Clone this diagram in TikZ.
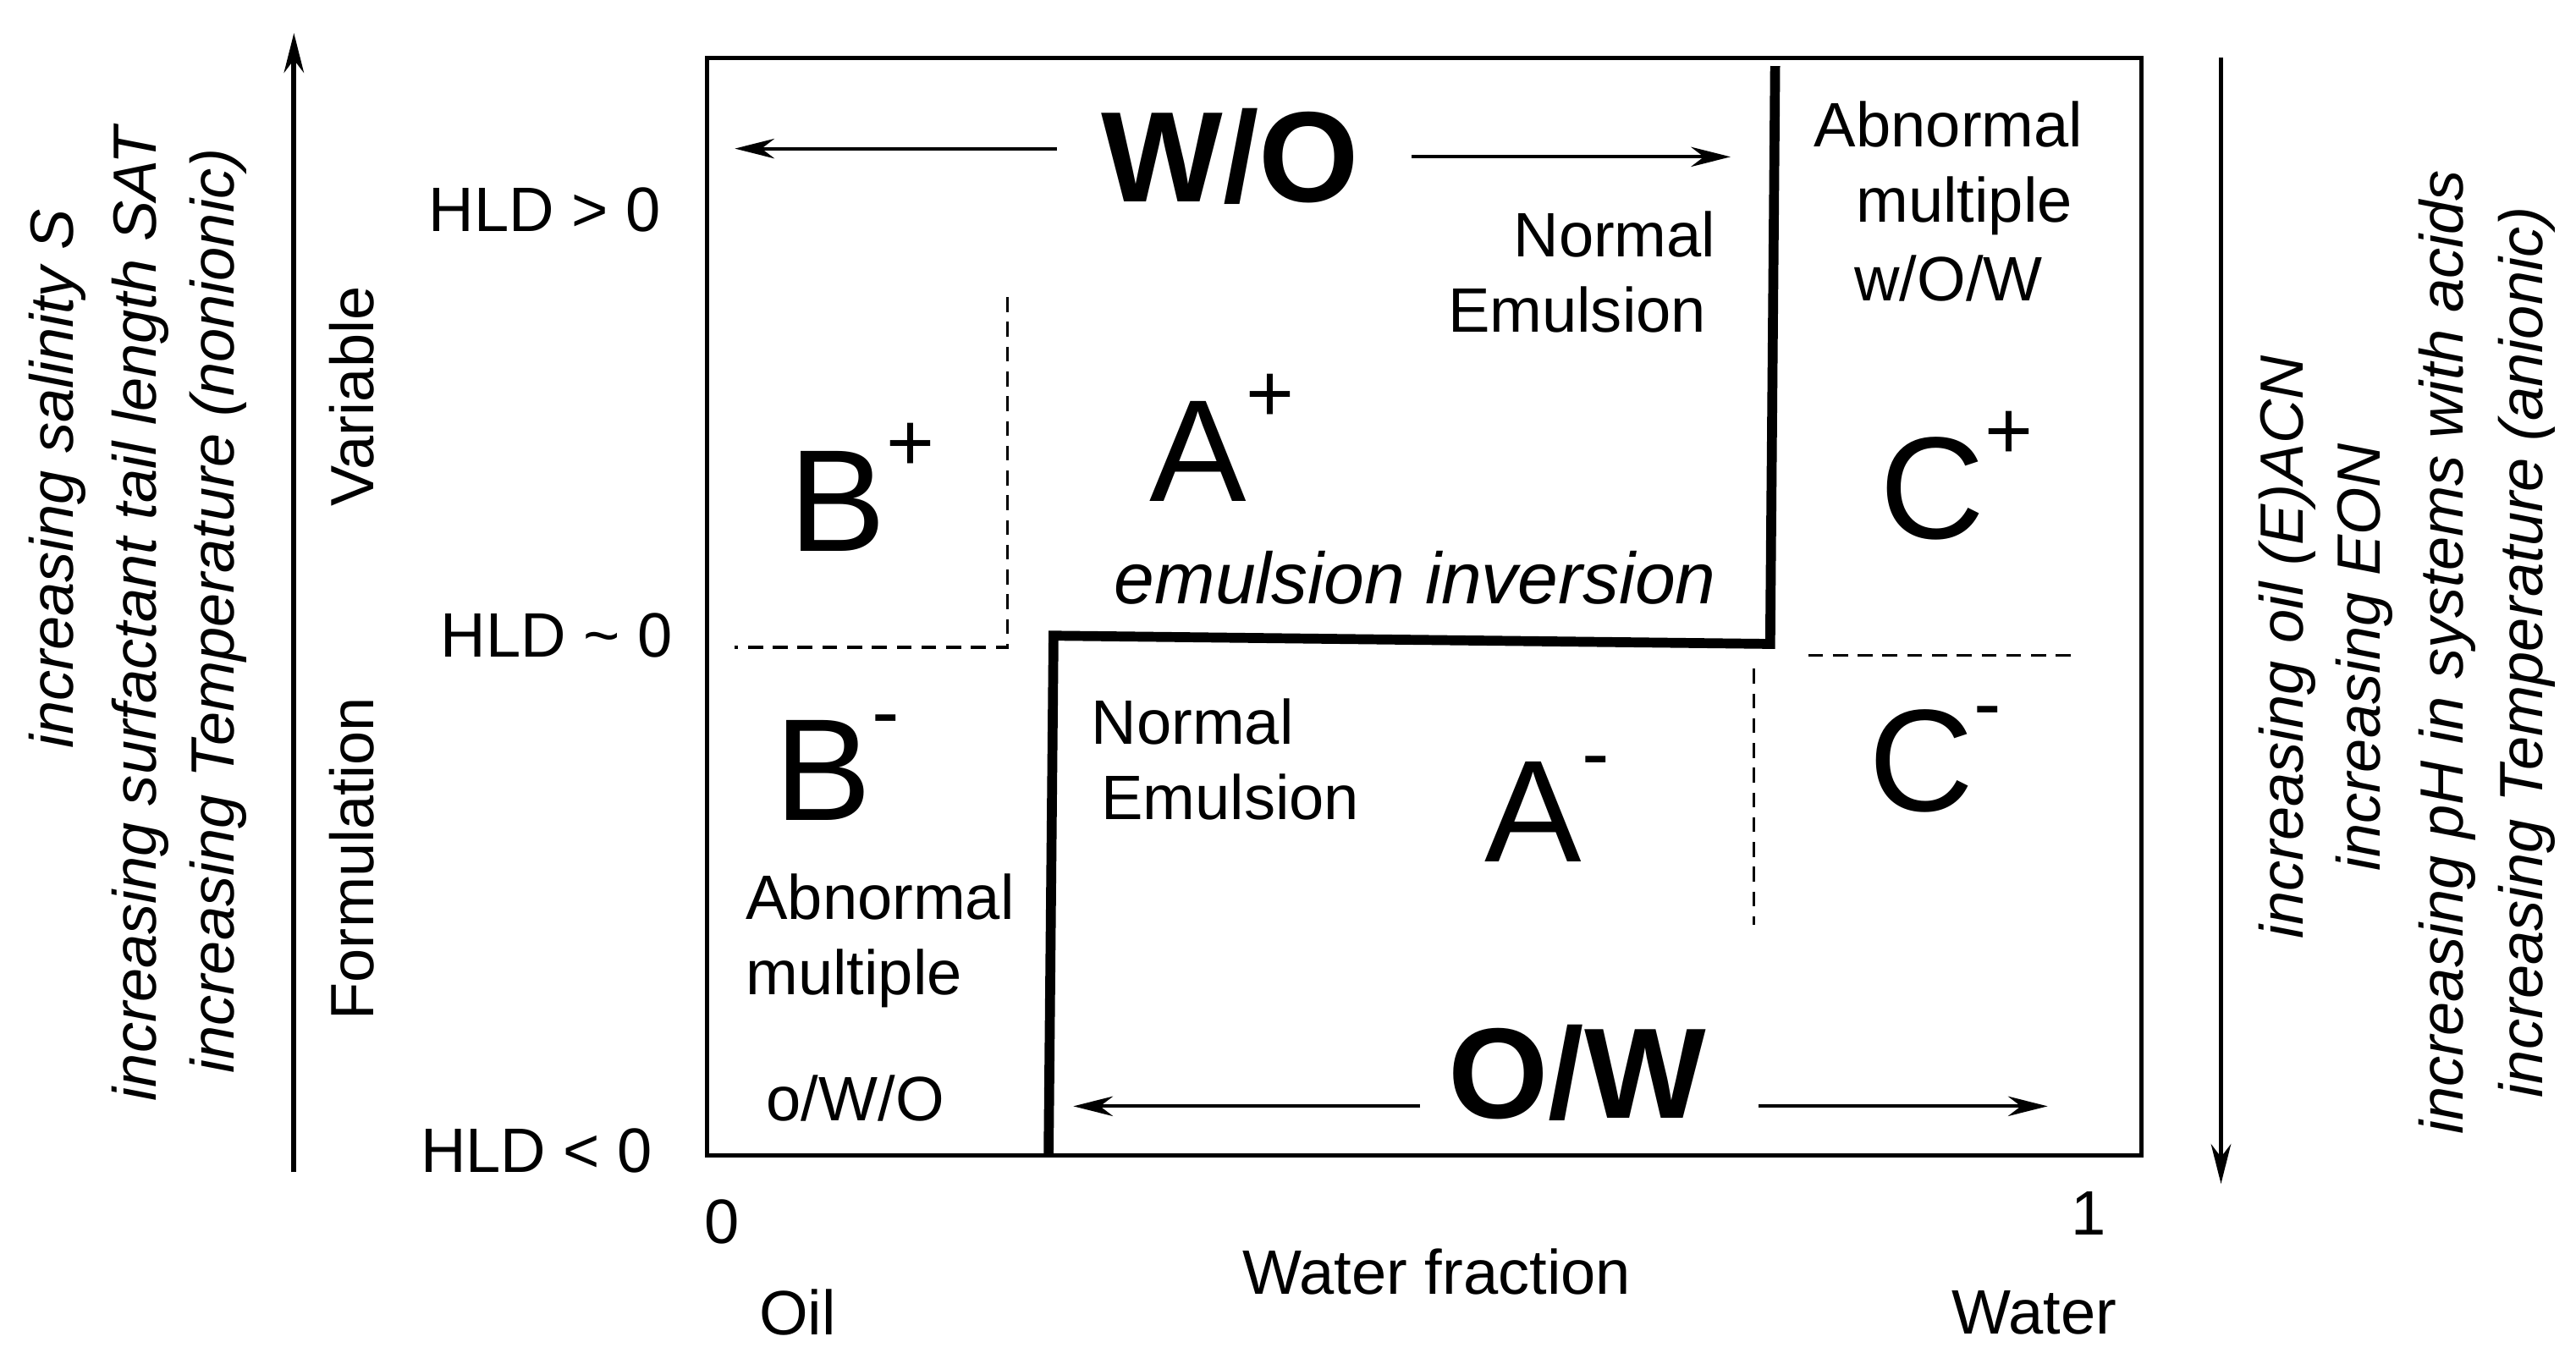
\documentclass[tikz,border=0pt]{standalone}
\usepackage{fontspec}
\setmainfont{Liberation Sans}
\usetikzlibrary{arrows.meta}
\newcommand{\fs}[1]{\fontsize{#1}{\dimexpr #1pt*6/5\relax}\selectfont}
\newcommand{\sUp}[1]{\raisebox{0.55em}{\fontsize{50}{50}\selectfont #1}}
\begin{document}
\begin{tikzpicture}[x=1pt,y=-1pt,
  t/.style={inner sep=0pt,font=\fs{38}},
  tl/.style={inner sep=0pt,font=\fs{38},align=center},
  big/.style={inner sep=0pt,font=\fs{88}},
  bold/.style={inner sep=0pt,font=\fs{78}\bfseries},
  rot/.style={inner sep=0pt,font=\fs{37}\itshape,rotate=90},
  arr/.style={line width=3pt,-{Stealth[length=24pt,width=12pt]}},
  dsh/.style={line width=1.8pt,dash pattern=on 9pt off 6pt}]
\useasboundingbox (0,0) rectangle (1560,826);
\draw[line width=2.5pt] (428,35) rectangle (1297,700);
\coordinate (la0) at (178,710); \coordinate (la1) at (178,20);
\draw[arr] (la0) -- (la1);
\coordinate (ra0) at (1345,35); \coordinate (ra1) at (1345,717);
\draw[arr] (ra0) -- (ra1);
\node[rot] (l1) at (35,290) {increasing salinity \textit{S}};
\node[rot] (l2) at (85,372) {increasing surfactant tail length \textit{SAT}};
\node[rot] (l3) at (132,370) {increasing Temperature (nonionic)};
\node[rot,font=\fs{37}] (v) at (213,240) {Variable};
\node[rot,font=\fs{37}] (f) at (213,520) {Formulation};
\node[t] (h1) at (330,127) {HLD > 0};
\node[t] (h2) at (337,385) {HLD \char`~\ 0};
\node[t] (h3) at (325,697) {HLD < 0};
\node[t] (z) at (437,740) {0};
\node[t] (o) at (1265,735) {1};
\node[t] (oil) at (483,795) {Oil};
\node[t] (wf) at (870,770) {Water fraction};
\node[t] (wa) at (1232,795) {Water};
\node[rot] (r1) at (1385,392) {increasing oil (E)ACN};
\node[rot] (r2) at (1432,398) {increasing EON};
\node[rot] (r3) at (1482,395) {increasing pH in systems with acids};
\node[rot] (r4) at (1530,395) {increasing Temperature (anionic)};
\node[bold] (wo) at (745,95) {W/O};
\coordinate (wo1) at (445,90); \coordinate (wo2) at (1048,95);
\draw[arr,line width=2pt] (640,90) -- (wo1);
\draw[arr,line width=2pt] (855,95) -- (wo2);
\node[tl] (ne1) at (955,165) {\hspace*{1.2em}Normal\\Emulsion};
\node[tl] (am1) at (1180,122) {Abnormal\\\hspace*{0.5em}multiple\\[2pt]w/O/W};
\coordinate (k1) at (1075,40); \coordinate (k2) at (1072,390);
\coordinate (k3) at (638,385); \coordinate (k4) at (635,700);
\draw[line width=6pt] (k1) -- (k2) -- (k3) -- (k4);
\draw[dsh] (610,180) -- (610,392) -- (445,392);
\draw[dsh] (1095,397) -- (1255,397);
\draw[dsh] (1062,405) -- (1062,560);
\node[big] (bp) at (522,295) {B\sUp{+}};
\node[big] (ap) at (740,265) {A\sUp{+}};
\node[big] (cp) at (1185,288) {C\sUp{+}};
\node[t,font=\fs{44}\itshape] (ei) at (857,350) {emulsion inversion};
\node[big] (bm) at (507,465) {B\sUp{-}};
\node[big] (am) at (937,490) {A\sUp{-}};
\node[big] (cm) at (1172,460) {C\sUp{-}};
\node[tl] (ne2) at (745,460) {Normal\hspace*{1.2em}\\Emulsion};
\node[tl,align=left] (am2) at (533,570) {Abnormal\\multiple};
\node[t] (owo) at (518,665) {o/W/O};
\node[bold] (ow) at (955,650) {O/W};
\coordinate (ow1) at (650,670); \coordinate (ow2) at (1240,670);
\draw[arr,line width=2pt] (860,670) -- (ow1);
\draw[arr,line width=2pt] (1065,670) -- (ow2);
\end{tikzpicture}
\end{document}
